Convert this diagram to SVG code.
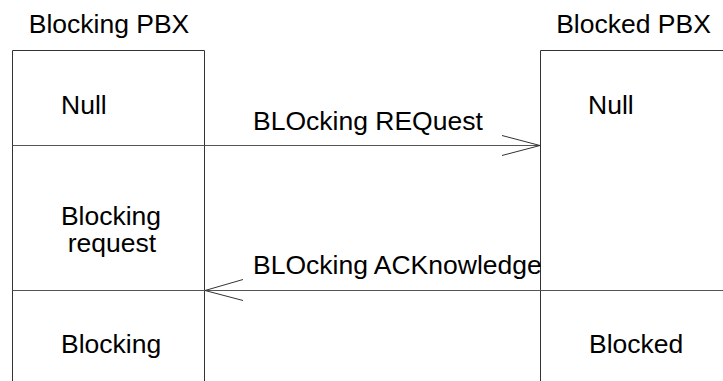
<svg xmlns="http://www.w3.org/2000/svg" width="723" height="381" viewBox="0 0 723 381">
<style>
text{font-family:"Liberation Sans",Arial,sans-serif;font-size:26.5px;fill:#000}
.ln{stroke:#333;stroke-width:1;fill:none}
.hl{stroke:#555;stroke-width:1.2;fill:none}
</style>
<rect width="723" height="381" fill="#fff"/>
<g id="blocking-pbx">
<text x="109" y="33" text-anchor="middle">Blocking PBX</text>
<path class="ln" d="M12.5,381 V50.5 H204.5 V381"/>
<path class="hl" d="M12.5,145.5 H204.5"/>
<text x="61" y="114">Null</text>
<text text-anchor="middle"><tspan x="111" y="225">Blocking</tspan><tspan x="112" y="252">request</tspan></text>
<text x="61" y="353">Blocking</text>
</g>
<g id="blocked-pbx">
<text x="633.5" y="33" text-anchor="middle">Blocked PBX</text>
<path class="ln" d="M540.5,381 V50.5 H723"/>
<text x="588" y="114">Null</text>
<text x="589" y="353">Blocked</text>
</g>
<g id="connectors">
<path class="hl" d="M204.5,145.5 H540"/>
<path class="ln" d="M502,135.5 L540,145.5 L502,155.5"/>
<text x="253" y="130">BLOcking REQuest</text>
<path class="hl" d="M12.5,290.5 H723"/>
<path class="ln" d="M243,279.5 L205,290.5 L243,300.5"/>
<text x="253" y="274">BLOcking ACKnowledge</text>
</g>
</svg>
